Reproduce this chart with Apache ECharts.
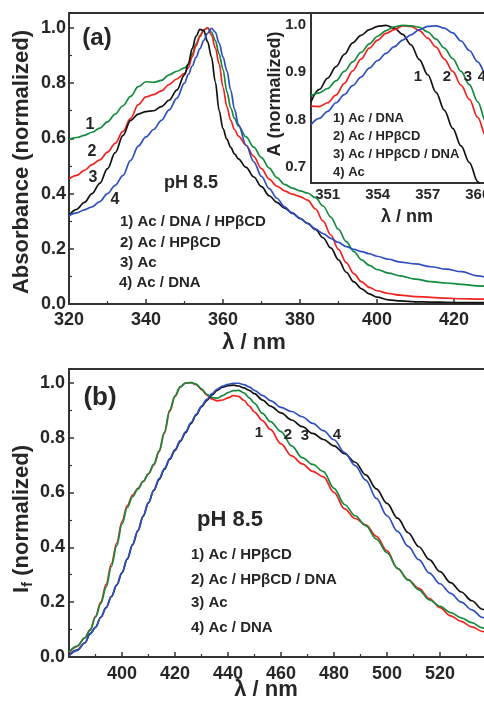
<!DOCTYPE html>
<html><head><meta charset="utf-8">
<script src="https://cdn.jsdelivr.net/npm/echarts@6/dist/echarts.min.js"></script>
<style>html,body{margin:0;padding:0;background:#fff}#c{width:484px;height:706px}</style>
</head><body><div id="c"></div>
<script>
// ---------- Panel (a): absorbance ----------
const absWl = [320,322,324,326,328,330,332,334,336,338,340,342,344,346,348,350,
  351,352,353,354,355,356,357,358,359,360,361,362,363,364,
  366,368,370,372,374,376,378,380,382,384,386,388,390,392,394,396,398,400,
  403,406,410,414,418,422,426,430];
const absGreen = [.597,.603,.611,.622,.637,.660,.688,.718,.752,.787,.805,.803,.810,.830,.843,.855,
  .868,.905,.942,.972,.993,1.0,.985,.955,.905,.850,.770,.710,.672,.645,
  .605,.568,.530,.492,.458,.433,.420,.410,.402,.385,.355,.315,.270,.226,.190,.160,.140,.125,
  .112,.102,.090,.081,.076,.071,.066,.062];
const absRed = [.453,.466,.484,.505,.522,.550,.582,.625,.672,.722,.750,.758,.772,.795,.815,.835,
  .855,.895,.935,.968,.992,1.0,.975,.928,.870,.785,.715,.665,.632,.608,
  .575,.535,.490,.452,.427,.410,.398,.389,.376,.345,.300,.250,.198,.150,.110,.080,.060,.048,
  .038,.032,.027,.024,.021,.019,.018,.017];
const absBlack = [.322,.343,.368,.400,.437,.490,.548,.610,.665,.688,.697,.700,.715,.738,.775,.830,
  .870,.925,.970,.995,.990,.950,.895,.805,.700,.635,.597,.567,.544,.526,
  .495,.460,.425,.392,.368,.347,.330,.310,.292,.270,.240,.203,.160,.115,.080,.055,.037,.025,
  .015,.011,.008,.007,.006,.005,.005,.005];
const absBlue = [.320,.330,.341,.352,.371,.400,.430,.465,.520,.572,.605,.632,.665,.703,.745,.800,
  .832,.862,.893,.925,.955,.980,.998,.985,.945,.895,.845,.775,.705,.650,
  .575,.515,.462,.418,.383,.352,.328,.310,.292,.272,.255,.238,.223,.208,.198,.190,.182,.173,
  .162,.152,.145,.135,.126,.117,.102,.090];

// ---------- Inset ----------
const insetWl = [350,350.5,351,351.5,352,352.5,353,353.5,354,354.5,355,355.5,356,356.5,357,357.5,358,358.5,359,359.5,360,360.5,361];
const insetBlack = [.838,.864,.888,.912,.938,.962,.978,.990,.997,.999,.993,.980,.958,.927,.895,.858,.820,.782,.745,.710,.670,.632,.595];
const insetRed = [.829,.828,.836,.852,.877,.903,.928,.951,.968,.982,.990,.998,.997,.988,.972,.953,.928,.902,.873,.843,.805,.765,.725];
const insetGreen = [.851,.857,.866,.882,.902,.922,.942,.960,.976,.988,.996,.999,.998,.995,.985,.970,.951,.929,.902,.874,.838,.795,.755];
const insetBlue = [.790,.803,.818,.836,.853,.872,.890,.909,.925,.940,.954,.968,.979,.990,.997,.998,.993,.983,.966,.946,.922,.896,.866];
const insetXLabels = [351,354,357,360];
const insetYLabels = [0.7,0.8,0.9,1.0];
const insetYTicks = [0.7,0.75,0.8,0.85,0.9,0.95,1.0];

// ---------- Panel (b): fluorescence ----------
const flWl = [380,383,386,388,390,392,394,396,398,400,402,404,406,408,410,412,414,416,418,420,
  422,424,426,428,430,432,434,436,438,440,442,444,446,448,450,453,456,
  460,464,468,472,476,480,484,488,492,496,500,504,508,512,516,520,524,528,532,536,540];
const flGreen = [.018,.040,.070,.098,.145,.195,.255,.330,.405,.485,.545,.585,.612,.640,.668,.703,.752,.820,.900,.952,
  .985,.999,1.0,.995,.978,.958,.946,.944,.953,.964,.971,.972,.963,.945,.925,.888,.858,
  .822,.770,.727,.702,.676,.615,.556,.515,.479,.430,.380,.323,.280,.245,.208,.185,.162,.143,.125,.106,.092];
const flRed = [.015,.038,.070,.100,.148,.200,.265,.340,.415,.495,.552,.590,.615,.640,.668,.700,.748,.815,.895,.950,
  .985,.999,1.0,.993,.975,.955,.940,.934,.937,.945,.953,.950,.936,.915,.893,.862,.830,
  .777,.733,.704,.677,.657,.600,.540,.505,.482,.440,.387,.322,.282,.250,.213,.180,.150,.130,.110,.093,.082];
const flBlack = [.006,.025,.052,.085,.108,.145,.180,.220,.262,.307,.357,.409,.460,.513,.562,.607,.647,.684,.720,.753,
  .786,.818,.851,.882,.912,.935,.956,.973,.984,.989,.991,.988,.981,.972,.960,.937,.915,
  .890,.864,.840,.815,.793,.770,.741,.710,.664,.613,.560,.506,.453,.402,.355,.311,.271,.237,.205,.174,.152];
const flBlue = [.004,.023,.051,.084,.108,.145,.180,.221,.263,.309,.359,.411,.462,.515,.564,.609,.650,.687,.723,.756,
  .789,.821,.854,.885,.915,.939,.960,.977,.988,.994,.998,.998,.993,.985,.972,.954,.935,
  .910,.895,.876,.852,.825,.792,.745,.698,.645,.578,.515,.458,.403,.355,.306,.267,.232,.200,.172,.144,.125];

const GREEN = '#138a3e', RED = '#f2231f', BLUE = '#2f4fbf', BLACK = '#111111';
const FONT = '"Liberation Sans", Arial, Helvetica, sans-serif';
const TXT = '#262626';
const AX = '#333333';

function pairs(xs, ys) { return xs.map((x, i) => [x, ys[i]]); }
function line(name, xi, yi, xs, ys, color) {
  return { name, type: 'line', xAxisIndex: xi, yAxisIndex: yi, data: pairs(xs, ys),
    showSymbol: false, smooth: 0.35, smoothMonotone: 'x', clip: true,
    lineStyle: { color, width: 1.7 }, itemStyle: { color }, silent: true };
}
function axisCommon(fontSize, margin) {
  return {
    axisLine: { show: true, onZero: false, lineStyle: { color: AX, width: 2 } },
    axisTick: { show: true, inside: true, length: 5, lineStyle: { color: AX, width: 1.5 } },
    minorTick: { show: true, splitNumber: 2, length: 3, lineStyle: { color: AX, width: 1.2 } },
    splitLine: { show: false },
    axisLabel: { fontSize, fontWeight: 'bold', fontFamily: FONT, color: TXT, margin,
      showMaxLabel: false }
  };
}
function txt(text, x, y, size, opts) {
  opts = opts || {};
  return { type: 'text', x, y, rotation: opts.rot || 0, z: 100,
    style: { text, fontSize: size, fontWeight: 'bold', fontFamily: FONT, fill: TXT,
      align: opts.align || 'center', verticalAlign: 'middle', rich: opts.rich } };
}

const f1 = v => v.toFixed(1);

const option = {
  animation: false,
  backgroundColor: '#fff',
  grid: [
    { left: 69, top: 13, right: -8.5, height: 291, show: true, borderColor: AX, borderWidth: 2, outerBoundsMode: 'none', containLabel: false },
    { left: 311, top: 13, right: -10.4, height: 170, show: true, borderColor: AX, borderWidth: 2, backgroundColor: '#fff', outerBoundsMode: 'none', containLabel: false, z: 3 },
    { left: 69, top: 369, right: -9, height: 288, show: true, borderColor: AX, borderWidth: 2, outerBoundsMode: 'none', containLabel: false }
  ],
  xAxis: [
    Object.assign(axisCommon(18, 7), { gridIndex: 0, type: 'value', min: 320, max: 430, interval: 20 }),
    (function () {
      const a = axisCommon(15, 4);
      a.minorTick = { show: false };
      a.axisLabel.showMaxLabel = true;
      a.axisLabel.showMinLabel = true;
      a.axisLabel.customValues = insetXLabels;
      a.axisTick.customValues = insetXLabels;
      return Object.assign(a, { gridIndex: 1, type: 'value', min: 350, max: 361 });
    })(),
    (function () {
      const a = axisCommon(18, 8);
      a.axisLabel.showMinLabel = false;
      return Object.assign(a, { gridIndex: 2, type: 'value', min: 380, max: 540, interval: 20 });
    })()
  ],
  yAxis: [
    (function () {
      const a = axisCommon(18, 3);
      a.axisLabel.formatter = f1;
      return Object.assign(a, { gridIndex: 0, type: 'value', min: 0, max: 1.054, interval: 0.2 });
    })(),
    (function () {
      const a = axisCommon(15, 5);
      a.minorTick = { show: false };
      a.axisLabel.formatter = f1;
      a.axisLabel.showMaxLabel = true;
      a.axisLabel.showMinLabel = true;
      a.axisLabel.customValues = insetYLabels;
      a.axisTick.customValues = insetYTicks;
      return Object.assign(a, { gridIndex: 1, type: 'value', min: 0.667, max: 1.025 });
    })(),
    (function () {
      const a = axisCommon(18, 4);
      a.axisLabel.formatter = f1;
      return Object.assign(a, { gridIndex: 2, type: 'value', min: 0, max: 1.05, interval: 0.2 });
    })()
  ],
  series: [
    line('Ac / DNA / HPβCD', 0, 0, absWl, absGreen, GREEN),
    line('Ac / HPβCD', 0, 0, absWl, absRed, RED),
    line('Ac', 0, 0, absWl, absBlack, BLACK),
    line('Ac / DNA', 0, 0, absWl, absBlue, BLUE),
    line('inset Ac / DNA', 1, 1, insetWl, insetBlack, BLACK),
    line('inset Ac / HPβCD', 1, 1, insetWl, insetRed, RED),
    line('inset Ac / HPβCD / DNA', 1, 1, insetWl, insetGreen, GREEN),
    line('inset Ac', 1, 1, insetWl, insetBlue, BLUE),
    line('fl Ac / HPβCD', 2, 2, flWl, flRed, RED),
    line('fl Ac / HPβCD / DNA', 2, 2, flWl, flGreen, GREEN),
    line('fl Ac', 2, 2, flWl, flBlack, BLACK),
    line('fl Ac / DNA', 2, 2, flWl, flBlue, BLUE)
  ],
  graphic: [
    txt('(a)', 97, 38, 24),
    txt('(b)', 100, 398, 26),
    txt('Absorbance (normalized)', 22, 162, 22, { rot: Math.PI / 2 }),
    txt('λ / nm', 254, 343, 22),
    txt('A (normalized)', 275, 94, 18, { rot: Math.PI / 2 }),
    txt('λ / nm', 407, 217, 18),
    txt('I{sub|f} (normalized)', 22, 519, 22, { rot: Math.PI / 2,
      rich: { sub: { fontSize: 15, fontWeight: 'bold', fontFamily: FONT, fill: TXT, padding: [12, 0, 0, 0] } } }),
    txt('λ / nm', 266, 690, 22),
    txt('pH 8.5', 191, 183, 18),
    txt('1) Ac / DNA / HPβCD', 120, 222, 15, { align: 'left' }),
    txt('2) Ac / HPβCD', 120, 243, 15, { align: 'left' }),
    txt('3) Ac', 120, 263, 15, { align: 'left' }),
    txt('4) Ac / DNA', 119, 283, 15, { align: 'left' }),
    txt('1', 90, 125, 16), txt('2', 92, 152, 16), txt('3', 93, 178, 16), txt('4', 115, 200, 16),
    txt('1) Ac / DNA', 333, 118, 13, { align: 'left' }),
    txt('2) Ac / HPβCD', 333, 136, 13, { align: 'left' }),
    txt('3) Ac / HPβCD / DNA', 333, 154, 13, { align: 'left' }),
    txt('4) Ac', 333, 172, 13, { align: 'left' }),
    txt('1', 418, 77, 15), txt('2', 447, 77, 15), txt('3', 468, 77, 15), txt('4', 482, 77, 15),
    txt('pH 8.5', 230, 520, 22),
    txt('1) Ac / HPβCD', 191, 555, 15, { align: 'left' }),
    txt('2) Ac / HPβCD / DNA', 191, 580, 15, { align: 'left' }),
    txt('3) Ac', 191, 603, 15, { align: 'left' }),
    txt('4) Ac / DNA', 191, 628, 15, { align: 'left' }),
    txt('1', 259, 433, 15), txt('2', 288, 435, 15), txt('3', 305, 436, 15), txt('4', 337, 435, 15)
  ]
};
const chart = echarts.init(document.getElementById('c'), null, { renderer: 'canvas' });
chart.setOption(option);
</script>
</body></html>
